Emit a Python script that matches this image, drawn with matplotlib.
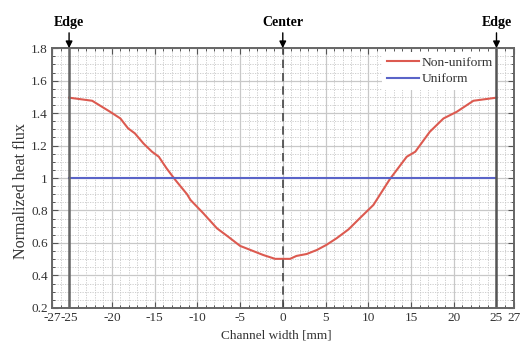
import matplotlib
matplotlib.use('Agg')
from matplotlib import pyplot as plt
from matplotlib.ticker import MultipleLocator
import numpy as np

plt.rcParams['font.family'] = ['Liberation Serif', 'DejaVu Serif']

# channel position [mm] and normalized heat flux
x_nonuni = [-25.0, -22.3, -20.2, -19.0, -18.1, -17.3, -16.3, -15.3, -14.5, -13.6,
            -12.6, -11.2, -10.8, -9.3, -7.7, -6.4, -5.0, -3.6, -2.3, -0.9,
            0.85, 1.6, 2.8, 4.0, 5.1, 6.3, 7.7, 9.0, 10.6, 12.55,
            14.5, 15.5, 17.2, 18.8, 20.35, 22.3, 25.0]
q_nonuni = [1.495, 1.476, 1.408, 1.367, 1.306, 1.275, 1.213, 1.162, 1.131, 1.06,
            0.99, 0.90, 0.865, 0.783, 0.69, 0.639, 0.582, 0.553, 0.526, 0.502,
            0.502, 0.52, 0.532, 0.557, 0.588, 0.629, 0.684, 0.752, 0.834, 0.995,
            1.131, 1.162, 1.285, 1.367, 1.408, 1.476, 1.495]
x_uni = [-25, 25]
q_uni = [1.0, 1.0]

xticks = [-27, -25, -20, -15, -10, -5, 0, 5, 10, 15, 20, 25, 27]
yticks = [0.2, 0.4, 0.6, 0.8, 1.0, 1.2, 1.4, 1.6, 1.8]
ylabels = ['0.2', '0.4', '0.6', '0.8', '1', '1.2', '1.4', '1.6', '1.8']

fig = plt.figure(figsize=(5.23, 3.44), dpi=100)
ax = fig.add_axes([0.0994, 0.105, 0.8826, 0.755])

ax.set_xlim(-27, 27)
ax.set_ylim(0.2, 1.8)
ax.set_xticks(xticks)
ax.set_xticklabels([str(t) for t in xticks])
ax.set_yticks(yticks)
ax.set_yticklabels(ylabels)
ax.xaxis.set_minor_locator(MultipleLocator(1))
ax.yaxis.set_minor_locator(MultipleLocator(0.05))

ax.grid(which='major', color='#c8c8c8', lw=0.9, ls='-')
ax.grid(which='minor', color='#c8c8c8', lw=0.6, ls=(0, (1.5, 1.5)))
ax.set_axisbelow(True)

ax.tick_params(which='both', direction='in', top=True, right=True, colors='#555555',
               labelcolor='#333333', labelsize=9.5, pad=3)
ax.tick_params(which='major', length=4, width=0.8)
ax.tick_params(which='minor', length=2.5, width=0.7)
for s in ax.spines.values():
    s.set_color('#666666')
    s.set_linewidth(1.4)

# edge and center markers stay on top of the legend box
ax.axvline(-25, color='#666666', lw=1.8, zorder=2.45)
ax.axvline(25, color='#555555', lw=1.8, zorder=2.45)
ax.axvline(0, color='#444444', lw=1.2, ls=(0, (5, 3)), zorder=2.45)

ax.plot(x_nonuni, q_nonuni, color='#dc5a50', lw=1.5, label='Non-uniform')
ax.plot(x_uni, q_uni, color='#5a64c8', lw=1.5, label='Uniform')

leg = ax.legend(loc='upper right', bbox_to_anchor=(0.98, 1.012), frameon=True,
                fontsize=9.7, handlelength=2.4, handletextpad=0.2,
                borderpad=0.35, labelspacing=0.3, fancybox=False, framealpha=1)
leg.get_frame().set_edgecolor('none')
leg.set_zorder(2.4)
for t in leg.get_texts():
    t.set_color('#333333')

for xpos, name in [(-25, 'Edge'), (0, 'Center'), (25, 'Edge')]:
    ax.annotate(name, xy=(xpos, 1.8), xycoords='data',
                xytext=(xpos, 1.92), textcoords='data',
                ha='center', va='bottom', fontsize=10, fontweight='bold',
                annotation_clip=False,
                arrowprops=dict(arrowstyle='-|>', color='black', lw=1.0,
                                mutation_scale=10, shrinkA=1, shrinkB=0))

ax.set_xlabel('Channel width [mm]', fontsize=9.5, color='#333333')
ax.xaxis.set_label_coords(0.485, -0.085)
ax.set_ylabel('Normalized heat flux', fontsize=11.5, color='#333333')
ax.yaxis.set_label_coords(-0.05, 0.45)

fig.savefig('out.png', dpi=100)
